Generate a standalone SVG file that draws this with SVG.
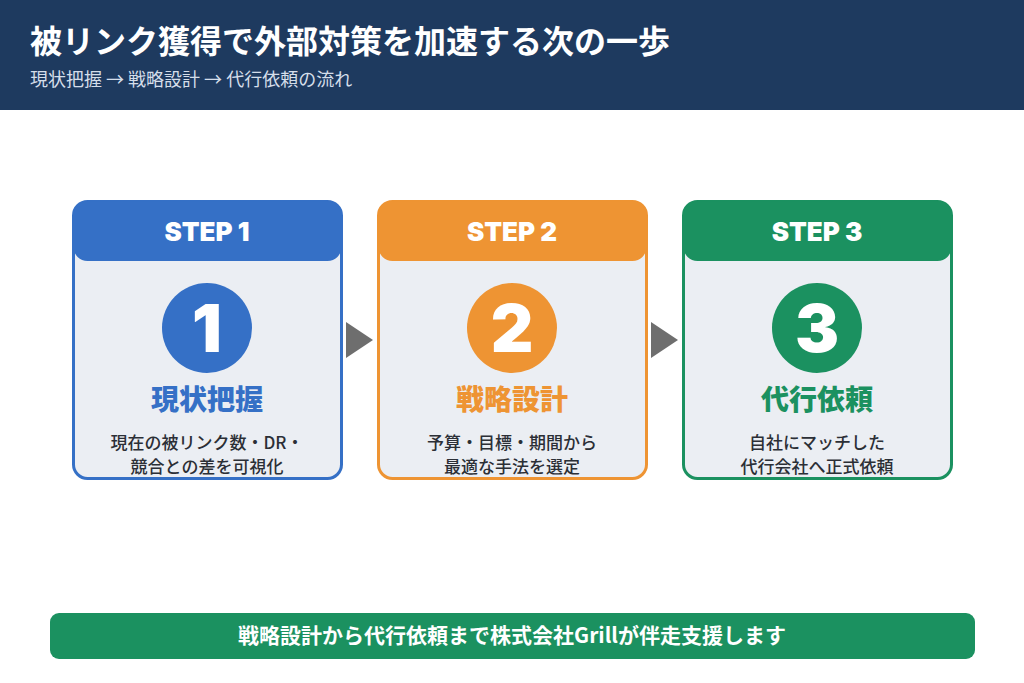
<svg xmlns="http://www.w3.org/2000/svg" width="1024" height="683" viewBox="0 0 1024 683">
<style>
text{font-family:"Noto Sans CJK JP","Noto Sans",sans-serif}
.card{fill:#EBEEF3;stroke-width:3}
.hd{font-size:26px;font-weight:900;fill:#fff;text-anchor:middle;font-family:"Inter","Noto Sans",sans-serif}
.num{font-size:66px;font-weight:900;fill:#fff;text-anchor:middle;font-family:"Inter","Noto Sans",sans-serif}
.ttl{font-size:28px;font-weight:900;text-anchor:middle}
.desc{font-size:17px;fill:#2b2f36;text-anchor:middle;font-weight:500}
</style>
<rect width="1024" height="683" fill="#fff"/>
<rect width="1024" height="110" fill="#1E3A5F"/>
<text x="30" y="53" font-size="32" font-weight="700" fill="#fff">被リンク獲得で外部対策を加速する次の一歩</text>
<text x="30" y="86" font-size="18" fill="#D5DEEA">現状把握 → 戦略設計 → 代行依頼の流れ</text>
<g id="step1">
<rect class="card" x="73.5" y="201.5" width="268" height="277" rx="14" stroke="#3570C6"/>
<path d="M73.5 215.5a14 14 0 0 1 14-14h240a14 14 0 0 1 14 14V247a14 14 0 0 1-14 14h-240a14 14 0 0 1-14-14z" fill="#3570C6"/>
<text class="hd" x="207" y="241">STEP 1</text>
<circle cx="207" cy="328" r="45" fill="#3570C6"/>
<text class="num" x="207" y="352">1</text>
<text class="ttl" x="207" y="410" fill="#3570C6">現状把握</text>
<text class="desc" x="207" y="449">現在の被リンク数・DR・</text>
<text class="desc" x="207" y="473">競合との差を可視化</text>
</g>
<g id="step2">
<rect class="card" x="378.5" y="201.5" width="268" height="277" rx="14" stroke="#EE9433"/>
<path d="M378.5 215.5a14 14 0 0 1 14-14h240a14 14 0 0 1 14 14V247a14 14 0 0 1-14 14h-240a14 14 0 0 1-14-14z" fill="#EE9433"/>
<text class="hd" x="512" y="241">STEP 2</text>
<circle cx="512" cy="328" r="45" fill="#EE9433"/>
<text class="num" x="512" y="352">2</text>
<text class="ttl" x="512" y="410" fill="#EE9433">戦略設計</text>
<text class="desc" x="512" y="449">予算・目標・期間から</text>
<text class="desc" x="512" y="473">最適な手法を選定</text>
</g>
<g id="step3">
<rect class="card" x="683.5" y="201.5" width="268" height="277" rx="14" stroke="#1B9160"/>
<path d="M683.5 215.5a14 14 0 0 1 14-14h240a14 14 0 0 1 14 14V247a14 14 0 0 1-14 14h-240a14 14 0 0 1-14-14z" fill="#1B9160"/>
<text class="hd" x="817" y="241">STEP 3</text>
<circle cx="817" cy="328" r="45" fill="#1B9160"/>
<text class="num" x="817" y="352">3</text>
<text class="ttl" x="817" y="410" fill="#1B9160">代行依頼</text>
<text class="desc" x="817" y="449">自社にマッチした</text>
<text class="desc" x="817" y="473">代行会社へ正式依頼</text>
</g>
<g id="connectors" fill="#6E6E6E">
<polygon points="346,322 373,340 346,358"/>
<polygon points="651,322 678,340 651,358"/>
</g>
<g id="banner">
<rect x="50" y="613" width="925" height="46" rx="9" fill="#1B9160"/>
<text x="512" y="643" font-size="21" font-weight="700" fill="#fff" text-anchor="middle">戦略設計から代行依頼まで株式会社Grillが伴走支援します</text>
</g>
</svg>
